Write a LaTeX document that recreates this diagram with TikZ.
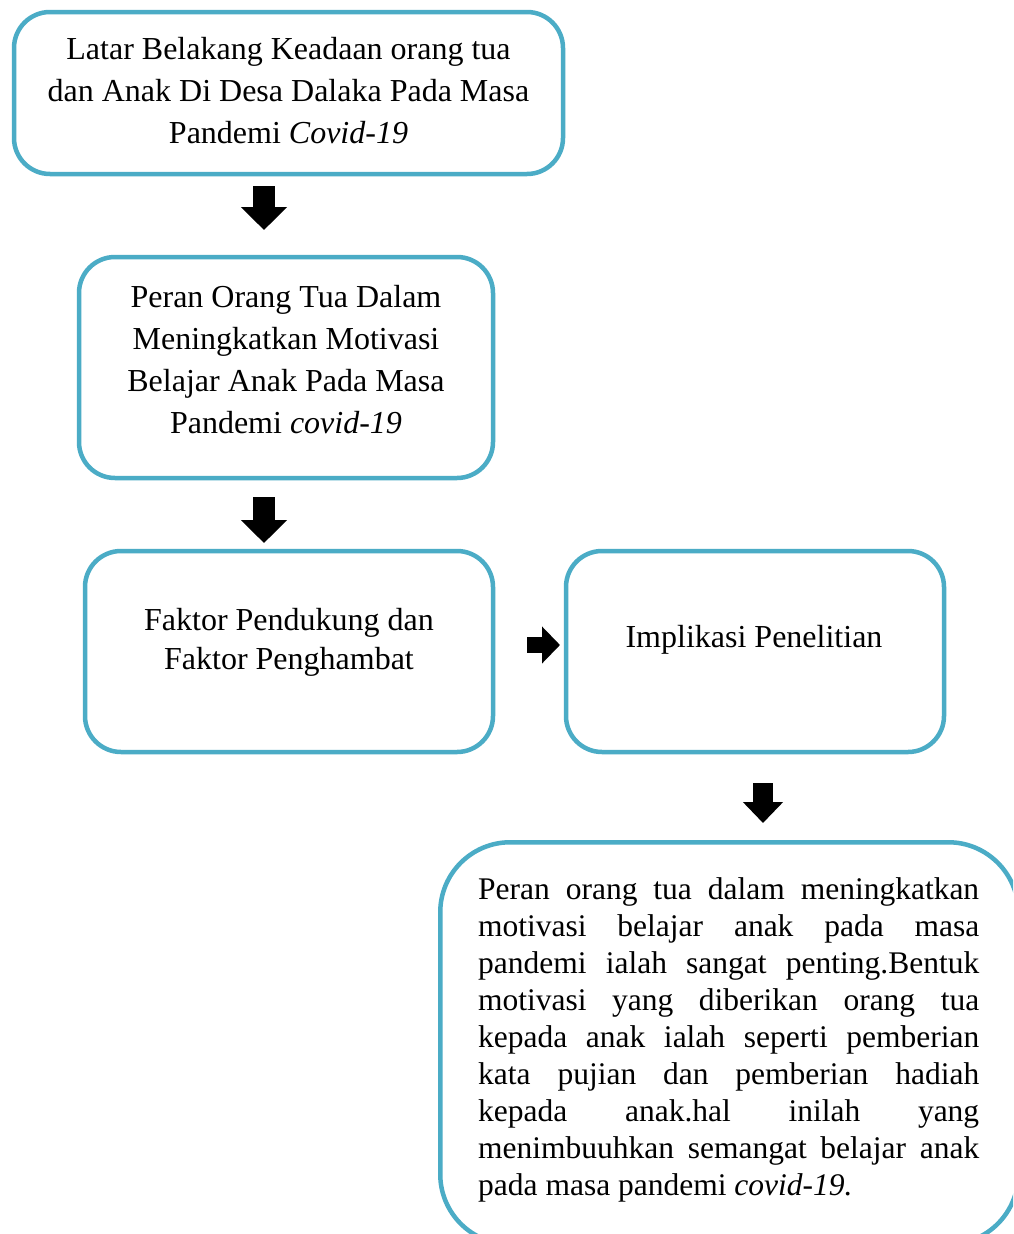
\documentclass[tikz,border=0pt]{standalone}
\usepackage{fontspec}
\setmainfont{Liberation Serif}
\usetikzlibrary{arrows.meta, positioning}
\definecolor{FrameBlue}{HTML}{4BACC6}
\tikzset{
  flowbox/.style={draw=FrameBlue, line width=4.5pt, rounded corners=36pt, fill=white, inner sep=0pt},
  bigbox/.style={draw=FrameBlue, line width=4.5pt, rounded corners=70pt, fill=white, inner sep=0pt, anchor=north west},
  boxtext/.style={align=center, font=\fontsize{32}{42}\selectfont, inner sep=0pt},
  longtext/.style={text width=501pt, align=justify, font=\fontsize{31.5}{37}\selectfont, inner sep=0pt, anchor=north west},
  downarrow/.style={-{Triangle[length=23pt, width=45pt]}, line width=22pt, draw=black},
  smallarrow/.style={-{Triangle[length=21pt, width=39pt]}, line width=20pt, draw=black},
  sidearrow/.style={-{Triangle[length=18pt, width=36pt]}, line width=16pt, draw=black}
}

\begin{document}
\begin{tikzpicture}[x=1pt, y=-1pt]
\clip (0,0) rectangle (1013,1234);
\fill[white] (0,0) rectangle (1013,1234);
\node[flowbox, minimum width=549pt, minimum height=162pt] (latar) at (288.5,93) {};
\node[boxtext] (latar-txt) at ([yshift=2.5pt]latar.center) {Latar Belakang Keadaan orang tua\\dan Anak Di Desa Dalaka Pada Masa\\Pandemi \textit{Covid-19}};
\node[flowbox, minimum width=414pt, minimum height=221pt] (peran) at (286,367.5) {};
\node[boxtext] (peran-txt) at ([yshift=8pt]peran.center) {Peran Orang Tua Dalam\\Meningkatkan Motivasi\\Belajar Anak Pada Masa\\Pandemi \textit{covid-19}};
\node[flowbox, minimum width=408pt, minimum height=201pt] (faktor) at (289,651.5) {};
\node[boxtext, font=\fontsize{32}{39}\selectfont] (faktor-txt) at ([yshift=9pt]faktor.center) {Faktor Pendukung dan\\Faktor Penghambat};
\node[flowbox, minimum width=378pt, minimum height=201pt] (implikasi) at (755,651.5) {};
\node[boxtext] (implikasi-txt) at ([yshift=11.5pt, xshift=-1pt]implikasi.center) {Implikasi Penelitian};
\node[bigbox, minimum width=578pt, minimum height=402pt] (simpulan) at (438,840) {};
\node[longtext] (simpulan-txt) at (478,877) {\tolerance=10000\hbadness=10000 Peran orang tua dalam meningkatkan\linebreak motivasi belajar anak pada masa\linebreak pandemi ialah sangat penting.Bentuk\linebreak motivasi yang diberikan orang tua\linebreak kepada anak ialah seperti pemberian\linebreak kata pujian dan pemberian hadiah\linebreak kepada anak.hal inilah yang\linebreak menimbuuhkan semangat belajar anak\linebreak pada masa pandemi \textit{covid-19.}};
\draw[downarrow] ([xshift=-24.5pt, yshift=-10pt]latar.south) -- ([xshift=-22pt, yshift=24.75pt]peran.north);
\draw[downarrow] ([xshift=-22pt, yshift=-17pt]peran.south) -- ([xshift=-25pt, yshift=5.75pt]faktor.north);
\draw[sidearrow] ([xshift=32pt, yshift=6.5pt]faktor.east) -- ([xshift=-3.75pt, yshift=6.5pt]implikasi.west);
\draw[smallarrow] ([xshift=8pt, yshift=-29pt]implikasi.south) -- ([xshift=325pt, yshift=17pt]simpulan.north west);
\end{tikzpicture}
\end{document}
